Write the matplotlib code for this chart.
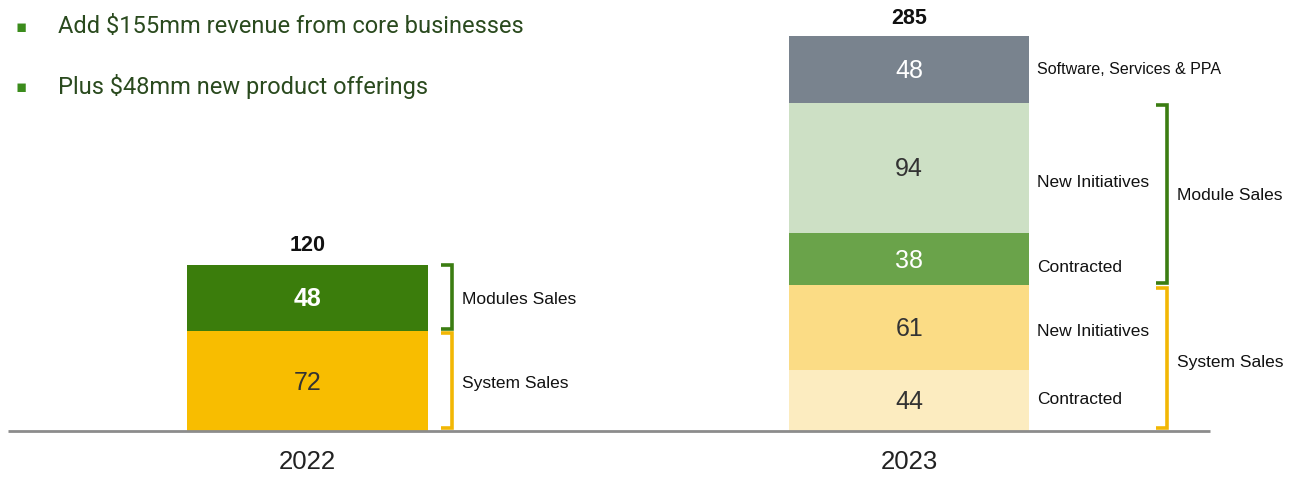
import matplotlib
matplotlib.use("Agg")
import matplotlib.pyplot as plt

plt.rcParams['font.family'] = ['Liberation Sans', 'DejaVu Sans']

years = ["2022", "2023"]
totals = [120, 285]
# 2022 segments (bottom to top)
seg2022_values = [72, 48]
seg2022_colors = ["#f8bd00", "#3b7d0c"]
seg2022_text_colors = ["#333333", "#ffffff"]
seg2022_bold = [False, True]
# 2023 segments (bottom to top)
seg2023_values = [44, 61, 38, 94, 48]
seg2023_labels = ["Contracted", "New Initiatives", "Contracted", "New Initiatives",
                  "Software, Services & PPA"]
seg2023_colors = ["#fcecc0", "#fbdc85", "#6aa34a", "#cde0c5", "#79838e"]
seg2023_text_colors = ["#333333", "#333333", "#ffffff", "#333333", "#ffffff"]
group2022 = ["System Sales", "Modules Sales"]
group2023 = ["System Sales", "Module Sales"]
bullets = ["Add $155mm revenue from core businesses", "Plus $48mm new product offerings"]

GREEN = "#3b7d12"
YELLOW = "#f2b705"

# layout-only: vertical offset of side labels from segment centres (data units)
label_dy = [1, -3, -6, -11, 0]
label_fs = [12.5, 12.5, 12.5, 12.5, 11.5]

fig = plt.figure(figsize=(12.93, 4.78), dpi=100)
ax = fig.add_axes([0, 0, 1, 1])
ax.set_xlim(-0.511, 1.638)
ax.set_ylim(-33.9, 311.0)
ax.axis("off")

W = 0.4
x = [0, 1]

# 2022 bar
b = 0
for v, c, tc, bd in zip(seg2022_values, seg2022_colors, seg2022_text_colors, seg2022_bold):
    ax.bar(x[0], v, W, bottom=b, color=c, linewidth=0)
    ax.text(x[0], b + v / 2 - 1, str(v), ha="center", va="center", fontsize=18,
            color=tc, fontweight="bold" if bd else "normal")
    b += v
ax.text(x[0], totals[0] + 6, str(totals[0]), ha="center", va="bottom", fontsize=15.5,
        fontweight="bold", color="#111111")

# 2023 bar
b = 0
for v, c, tc, lab, dy, fs in zip(seg2023_values, seg2023_colors, seg2023_text_colors,
                                 seg2023_labels, label_dy, label_fs):
    ax.bar(x[1], v, W, bottom=b, color=c, linewidth=0)
    ax.text(x[1], b + v / 2 - 1, str(v), ha="center", va="center", fontsize=18, color=tc)
    ax.text(x[1] + W / 2 + 0.012, b + v / 2 + dy, lab, ha="left", va="center",
            fontsize=fs, color="#111111")
    b += v
ax.text(x[1], totals[1] + 5, str(totals[1]), ha="center", va="bottom", fontsize=15.5,
        fontweight="bold", color="#111111")

# baseline
ax.plot([-0.498, 1.500], [0, 0], color="#8c8c8c", lw=2, solid_capstyle="butt")

# year labels
for xi, yr in zip(x, years):
    ax.text(xi, -22, yr, ha="center", va="center", fontsize=18.5, color="#222222")


def bracket(xr, y0, y1, color, tick=0.018):
    ax.plot([xr - tick, xr, xr, xr - tick], [y0, y0, y1, y1], color=color, lw=2.6,
            solid_joinstyle="miter", solid_capstyle="butt")

# 2022 brackets
xb = x[0] + W / 2 + 0.04
bracket(xb, 2, seg2022_values[0] - 1.5, YELLOW)
bracket(xb, seg2022_values[0] + 1.5, totals[0], GREEN)
ax.text(xb + 0.017, seg2022_values[0] / 2 - 2, group2022[0], ha="left", va="center",
        fontsize=12.5, color="#111111")
ax.text(xb + 0.017, seg2022_values[0] + seg2022_values[1] / 2 - 1, group2022[1],
        ha="left", va="center", fontsize=12.5, color="#111111")

# 2023 brackets
xb2 = x[1] + W / 2 + 0.228
sys_top = seg2023_values[0] + seg2023_values[1]
mod_top = sys_top + seg2023_values[2] + seg2023_values[3]
bracket(xb2, 2, sys_top - 1.5, YELLOW)
bracket(xb2, sys_top + 1.5, mod_top - 2, GREEN)
ax.text(xb2 + 0.017, sys_top / 2 - 3, group2023[0], ha="left", va="center",
        fontsize=12.5, color="#111111")
ax.text(xb2 + 0.017, (sys_top + mod_top) / 2 - 1, group2023[1], ha="left", va="center",
        fontsize=12.5, color="#111111")

# bullets
for i, t in enumerate(bullets):
    yb = 0.944 - i * 0.125
    fig.text(0.016, yb, "\u25aa", ha="center", va="center", fontsize=12, color="#3b8c1c",
             family=["DejaVu Sans"])
    fig.text(0.045, yb, t, ha="left", va="center", fontsize=17, color="#2a4a1e",
             family=["Roboto", "DejaVu Sans"], parse_math=False)

fig.savefig("out.png", dpi=100)
